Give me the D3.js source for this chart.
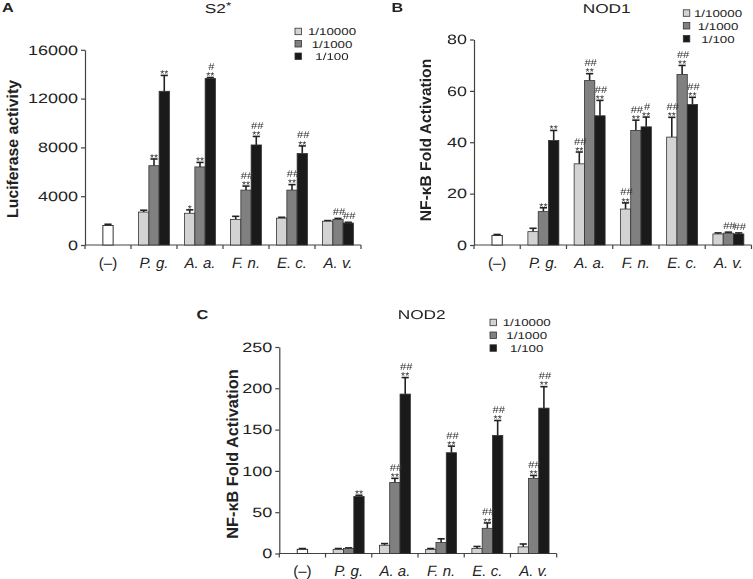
<!DOCTYPE html>
<html><head><meta charset="utf-8">
<script src="https://cdn.jsdelivr.net/npm/d3@7"></script>
<style>body{margin:0;background:#fff} svg{display:block;font-family:'Liberation Sans',Arial,sans-serif;text-rendering:geometricPrecision}</style>
</head><body><svg id="c" width="753" height="579"></svg>
<script>
// ---------- data ----------
const categories = ["(–)", "P. g.", "A. a.", "F. n.", "E. c.", "A. v."];
const dilutions = ["1/10000", "1/1000", "1/100"];

// Panel A (S2*) – luciferase activity
const ticksA = [0, 4000, 8000, 12000, 16000];
const controlA = 1600, controlAErr = 100;
const a10000 = [2700, 2600, 2100, 2200, 1950];
const a10000Err = [150, 280, 250, 70, 50];
const a1000 = [6500, 6400, 4500, 4500, 2100];
const a1000Err = [550, 370, 330, 450, 80];
const a100 = [12600, 13650, 8200, 7500, 1800];
const a100Err = [1300, 80, 700, 620, 60];
const starsA = [["", "*", "", "", ""], ["**", "**", "**", "**", ""], ["**", "**", "**", "**", ""]];
const hashA = [["", "", "", "", ""], ["", "", "##", "##", "##"], ["", "#", "##", "##", "##"]];

// Panel B (NOD1)
const ticksB = [0, 20, 40, 60, 80];
const controlB = 3.7, controlBErr = 0.4;
const b10000 = [5.2, 31.6, 14, 42, 4.3];
const b10000Err = [1.3, 4.6, 2.4, 7.7, 0.4];
const b1000 = [13, 64, 44.6, 66.4, 4.6];
const b1000Err = [1.5, 2.7, 4, 3.5, 0.4];
const b100 = [40.7, 50.3, 46, 54.7, 4.3];
const b100Err = [3.9, 6, 3.8, 2.8, 0.4];
const starsB = [["", "**", "**", "**", ""], ["**", "**", "**", "**", ""], ["**", "**", "**", "**", ""]];
const hashB = [["", "##", "##", "##", ""], ["", "##", "##", "##", "##"], ["", "##", "#", "##", "##"]];

// Panel C (NOD2)
const ticksC = [0, 50, 100, 150, 200, 250];
const controlC = 5, controlCErr = 1;
const c10000 = [5, 10, 5, 6, 8];
const c10000Err = [1, 2, 1, 2.5, 3.5];
const c1000 = [6, 86, 13.3, 30.5, 91];
const c1000Err = [0.8, 5, 4.5, 6.5, 3.5];
const c100 = [69, 193, 122, 143, 176];
const c100Err = [1.5, 20, 8, 18, 26];
const starsC = [["", "", "", "", ""], ["", "**", "", "**", "**"], ["**", "**", "**", "**", "**"]];
const hashC = [["", "", "", "", ""], ["", "##", "", "##", "##"], ["", "##", "##", "##", "##"]];

// ---------- style ----------
const FONT = "'Liberation Sans', Arial, sans-serif";
const fills = ["#d3d3d3", "#808080", "#1a1a1a"];
const INK = "#222";
const AX = "#444";
const SX = 1.33;

const svg = d3.select('#c');
// neutral filter: renders the small significance marks in an offscreen buffer (grayscale AA)
const flt = svg.append('defs').append('filter').attr('id', 'gray')
  .attr('x', 0).attr('y', 0).attr('width', 1).attr('height', 1);
flt.append('feOffset').attr('dx', 0).attr('dy', 0);

function stext(parent, x, y, txt, o = {}) {
  const g = parent.append('g').attr('transform', `translate(${x},${y}) scale(${o.sx || 1},1)`);
  const t = g.append('text').attr('x', 0).attr('y', 0)
    .attr('font-size', o.fs || 12).attr('font-family', FONT)
    .attr('font-weight', o.bold ? 'bold' : 'normal')
    .attr('text-anchor', o.anchor || 'start').attr('fill', o.fill || INK).text(txt);
  return t;
}

function panel(cfg) {
  const { x0, x1, y0, y1, max, ticks, control, controlErr, series, errs, stars, hashes,
          ylabel, ylx, yly, ylfs, title, tx, ty, letter, lx, ly, legX, legTX, legY } = cfg;
  const xCat = d3.scaleBand().domain(categories).range([x0, x1]).paddingInner(0).paddingOuter(0);
  const xSer = d3.scaleBand().domain(dilutions).range([0, xCat.bandwidth()]).paddingInner(0).paddingOuter(0.74);
  const y = d3.scaleLinear().domain([0, max]).range([y0, y1]);
  const bw = xSer.bandwidth();

  // y axis
  const ax = svg.append('g').attr('transform', `translate(${x0},0)`)
    .call(d3.axisLeft(y).tickValues(ticks).tickFormat(d3.format('d')).tickSize(4).tickSizeOuter(0).tickPadding(3));
  ax.attr('font-family', FONT).attr('font-size', 13.5);
  ax.select('.domain').attr('stroke', AX).attr('stroke-width', 1.2);
  ax.selectAll('.tick line').attr('stroke', AX).attr('stroke-width', 1.2);
  ax.selectAll('.tick text').attr('fill', INK).each(function () {
    const x = +this.getAttribute('x');
    d3.select(this).attr('x', 0).attr('transform', `translate(${x},0) scale(${SX},1)`);
  });

  // x axis line + category boundary ticks
  svg.append('line').attr('x1', x0).attr('x2', x1).attr('y1', y0).attr('y2', y0)
    .attr('stroke', AX).attr('stroke-width', 1.2);
  svg.append('line').attr('x1', x0).attr('x2', x0).attr('y1', y0).attr('y2', y0 + 4)
    .attr('stroke', AX).attr('stroke-width', 1.2);
  categories.forEach((c, i) => {
    const bx = xCat(c) + xCat.bandwidth();
    svg.append('line').attr('x1', bx).attr('x2', bx).attr('y1', y0).attr('y2', y0 + 4)
      .attr('stroke', AX).attr('stroke-width', 1.2);
  });
  // category labels
  const xa = svg.append('g').attr('transform', `translate(0,${y0})`)
    .call(d3.axisBottom(xCat).tickSize(0).tickPadding(12));
  xa.select('.domain').remove();
  xa.attr('font-family', FONT).attr('font-size', 15);
  xa.selectAll('.tick text').attr('fill', INK)
    .attr('font-style', d => d === categories[0] ? 'normal' : 'italic');

  const gb = svg.append('g');
  const gm = svg.append('g').attr('filter', 'url(#gray)');
  function errBar(cx, v, e) {
    const yt = y(v + e);
    gb.append('line').attr('x1', cx).attr('x2', cx).attr('y1', y(v)).attr('y2', yt)
      .attr('stroke', INK).attr('stroke-width', 1.6);
    gb.append('line').attr('x1', cx - 3.6).attr('x2', cx + 3.6).attr('y1', yt).attr('y2', yt)
      .attr('stroke', INK).attr('stroke-width', 1.6);
    return yt;
  }
  // control bar
  const ccx = xCat(categories[0]) + xCat.bandwidth() / 2;
  errBar(ccx, control, controlErr);
  gb.append('rect').attr('x', ccx - bw / 2).attr('width', bw).attr('y', y(control))
    .attr('height', y0 - y(control)).attr('fill', '#fff').attr('stroke', '#333').attr('stroke-width', 1);

  series.forEach((vals, s) => {
    vals.forEach((v, i) => {
      const cat = categories[i + 1];
      const bx = xCat(cat) + xSer(dilutions[s]);
      const cx = bx + bw / 2;
      const yt = errBar(cx, v, errs[s][i]);
      gb.append('rect').attr('x', bx).attr('width', bw).attr('y', y(v))
        .attr('height', y0 - y(v)).attr('fill', fills[s]).attr('stroke', '#333').attr('stroke-width', 0.8);
      if (stars[s][i]) {
        stext(gm, cx, yt + 1.8, stars[s][i], { fs: 10, sx: 1.05, anchor: 'middle', fill: '#333' });
      }
      if (hashes[s][i]) {
        const hy = stars[s][i] ? yt - 7.5 : yt - 3;
        stext(gm, cx + 1, hy, hashes[s][i], { fs: 10, sx: 1.12, anchor: 'middle', fill: '#333' });
      }
    });
  });

  // y label
  svg.append('text').attr('transform', `translate(${ylx},${yly}) rotate(-90)`)
    .attr('text-anchor', 'middle').attr('font-family', FONT).attr('font-weight', 'bold')
    .attr('font-size', ylfs).attr('fill', INK).text(ylabel);

  // title
  const tt = stext(svg, tx, ty, title, { fs: 12.8, sx: 1.35, anchor: 'middle' });
  if (cfg.titleSup) {
    tt.append('tspan').attr('dy', -4).attr('font-size', 10).text(cfg.titleSup);
  }
  // panel letter
  stext(svg, lx, ly, letter, { fs: 13, bold: true, sx: 1.25 });

  // legend
  dilutions.forEach((d, s) => {
    const ry = legY[s];
    svg.append('rect').attr('x', legX).attr('y', ry - 3.5).attr('width', 6.5).attr('height', 6.5)
      .attr('fill', fills[s]).attr('stroke', '#333').attr('stroke-width', 0.8);
    stext(svg, legTX, ry + 3.6, d, { fs: 10, sx: SX, anchor: 'middle' });
  });
}

panel({
  x0: 85, x1: 361, y0: 245, y1: 49.8, max: 16000, ticks: ticksA,
  control: controlA, controlErr: controlAErr,
  series: [a10000, a1000, a100], errs: [a10000Err, a1000Err, a100Err],
  stars: starsA, hashes: hashA,
  ylabel: 'Luciferase activity', ylx: 17.5, yly: 149, ylfs: 15.8,
  title: 'S2', titleSup: '*', tx: 218, ty: 13, letter: 'A', lx: 2, ly: 12,
  legX: 295, legTX: 332, legY: [31.7, 44, 56.5]
});

panel({
  x0: 474, x1: 751.5, y0: 245, y1: 39.5, max: 80, ticks: ticksB,
  control: controlB, controlErr: controlBErr,
  series: [b10000, b1000, b100], errs: [b10000Err, b1000Err, b100Err],
  stars: starsB, hashes: hashB,
  ylabel: 'NF-κB Fold Activation', ylx: 431, yly: 140, ylfs: 15.6,
  title: 'NOD1', tx: 606.7, ty: 13, letter: 'B', lx: 391.5, ly: 12,
  legX: 683.3, legTX: 718, legY: [13.3, 26, 39]
});

panel({
  x0: 279.3, x1: 556.7, y0: 553.5, y1: 347, max: 250, ticks: ticksC,
  control: controlC, controlErr: controlCErr,
  series: [c10000, c1000, c100], errs: [c10000Err, c1000Err, c100Err],
  stars: starsC, hashes: hashC,
  ylabel: 'NF-κB Fold Activation', ylx: 237.5, yly: 454, ylfs: 16.3,
  title: 'NOD2', tx: 421.7, ty: 319, letter: 'C', lx: 196.5, ly: 319,
  legX: 490, legTX: 526.7, legY: [322.7, 335.5, 348.3]
});
</script></body></html>
